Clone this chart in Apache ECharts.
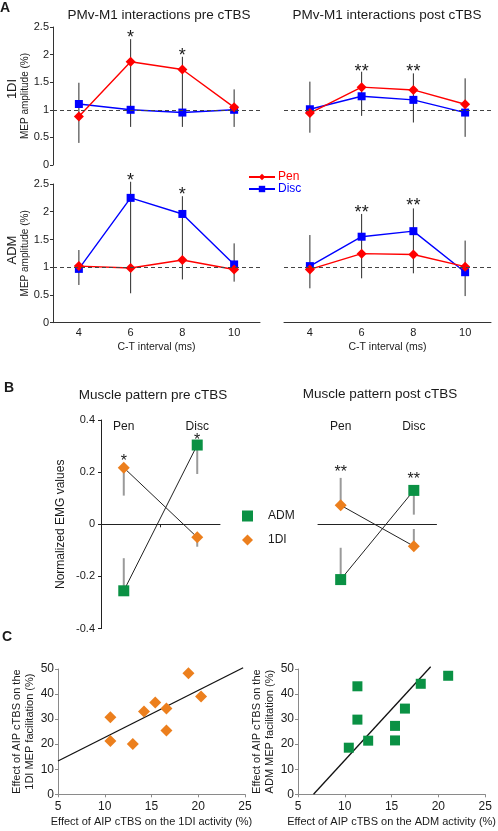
<!DOCTYPE html>
<html><head><meta charset="utf-8">
<script src="https://cdn.jsdelivr.net/npm/echarts@6/dist/echarts.min.js"></script>
<style>html,body{margin:0;padding:0;background:#fff}#c{width:498px;height:831px}</style>
</head><body><div id="c"></div>
<script>
// ---------- Panel A data ----------
const ctIntervals = ['4', '6', '8', '10'];
const penPre1DI = [0.88, 1.87, 1.73, 1.045];
const discPre1DI = [1.105, 1.0, 0.95, 1.0];
const errPre1DI = [[0.40, 1.49], [0.69, 2.28], [0.69, 1.96], [0.69, 1.37]];
const starsPre1DI = [[1, 2.39, 1], [2, 2.05, 1]];

const penPost1DI = [0.94, 1.41, 1.36, 1.10];
const discPost1DI = [1.01, 1.245, 1.18, 0.95];
const errPost1DI = [[0.585, 1.51], [0.89, 1.69], [0.77, 1.66], [0.51, 1.57]];
const starsPost1DI = [[1, 1.76, 2], [2, 1.76, 2]];

const penPreADM = [1.02, 0.985, 1.13, 0.96];
const discPreADM = [0.97, 2.25, 1.96, 1.05];
const errPreADM = [[0.68, 1.31], [0.53, 2.54], [0.78, 2.28], [0.74, 1.43]];
const starsPreADM = [[1, 2.63, 1], [2, 2.38, 1]];

const penPostADM = [0.96, 1.245, 1.23, 1.01];
const discPostADM = [1.02, 1.55, 1.65, 0.91];
const errPostADM = [[0.62, 1.58], [0.80, 1.96], [0.89, 2.06], [0.48, 1.48]];
const starsPostADM = [[1, 2.05, 2], [2, 2.18, 2]];

// ---------- Panel B data ----------
const taskCats = ['Pen', 'Disc'];
const admPre = [-0.255, 0.304];
const fdiPre = [0.217, -0.05];
const admPreErr = [[-0.255, -0.13], [0.304, 0.193]];
const fdiPreErr = [[0.217, 0.11], [-0.05, -0.086]];
const starsBPre = [[0, 0.257, 1], [1, 0.336, 1]];

const admPost = [-0.212, 0.13];
const fdiPost = [0.073, -0.084];
const admPostErr = [[-0.212, -0.09], [0.13, 0.037]];
const fdiPostErr = [[0.073, 0.178], [-0.084, -0.018]];
const starsBPost = [[0, 0.215, 2], [1, 0.185, 2]];

// ---------- Panel C data ----------
const fdiActivity = [10.6, 10.6, 13.0, 14.2, 15.4, 16.6, 16.6, 18.95, 20.3];
const fdiMEP = [30.7, 21.3, 20.1, 33.0, 36.6, 34.2, 25.5, 48.3, 39.0];
const fit1DI = [[5, 13.3], [24.8, 50.5]];

const admActivity = [10.43, 11.35, 11.35, 12.5, 15.37, 15.37, 16.43, 18.12, 21.05];
const admMEP = [18.6, 43.1, 29.8, 21.4, 27.3, 21.5, 34.2, 44.1, 47.3];
const fitADM = [[6.66, 0], [19.18, 50.9]];

// ---------- styling ----------
const RED = '#ff0000', BLUE = '#0000ff', ORANGE = '#ec7f1d', GREEN = '#0a9144';
const FONT = 'Liberation Sans, Arial, sans-serif';
const TXT = '#1a1a1a';

function errRender(color, width) {
  return function (params, api) {
    const p1 = api.coord([api.value(0), api.value(1)]);
    const p2 = api.coord([api.value(0), api.value(2)]);
    return { type: 'line', shape: { x1: p1[0], y1: p1[1], x2: p2[0], y2: p2[1] },
      style: { stroke: color, lineWidth: width } };
  };
}
function starRender(size) {
  return function (params, api) {
    const p = api.coord([api.value(0), api.value(1)]);
    return { type: 'text', x: p[0], y: p[1] + size * 0.25,
      style: { text: '*'.repeat(api.value(2)), fill: TXT, font: size + 'px ' + FONT,
        align: 'center', verticalAlign: 'middle' } };
  };
}

const series = [];
function addA(idx, pen, disc, errs, stars) {
  series.push({ type: 'custom', xAxisIndex: idx, yAxisIndex: idx, z: 1,
    encode: { x: 0, y: [1, 2] },
    data: errs.map((e, k) => [k, e[0], e[1]]), renderItem: errRender('#2a2a2a', 1) });
  series.push({ type: 'line', name: 'Disc', xAxisIndex: idx, yAxisIndex: idx, z: 3,
    data: disc, color: BLUE, symbol: 'rect', symbolSize: 8, lineStyle: { width: 1.4 },
    markLine: { silent: true, symbol: 'none', label: { show: false },
      lineStyle: { type: [4, 3], color: '#444', width: 1 }, data: [{ yAxis: 1 }] } });
  series.push({ type: 'line', name: 'Pen', xAxisIndex: idx, yAxisIndex: idx, z: 4,
    data: pen, color: RED, symbol: 'diamond', symbolSize: 10, lineStyle: { width: 1.4 } });
  series.push({ type: 'custom', xAxisIndex: idx, yAxisIndex: idx, z: 5,
    encode: { x: 0, y: 1 }, data: stars, renderItem: starRender(18) });
}
addA(0, penPre1DI, discPre1DI, errPre1DI, starsPre1DI);
addA(1, penPost1DI, discPost1DI, errPost1DI, starsPost1DI);
addA(2, penPreADM, discPreADM, errPreADM, starsPreADM);
addA(3, penPostADM, discPostADM, errPostADM, starsPostADM);

function addB(gi, xi, adm, fdi, admErr, fdiErr, stars) {
  const errs = admErr.map((e, k) => [k, e[0], e[1]]).concat(fdiErr.map((e, k) => [k, e[0], e[1]]));
  series.push({ type: 'custom', xAxisIndex: xi, yAxisIndex: gi, z: 1,
    encode: { x: 0, y: [1, 2] }, data: errs, renderItem: errRender('#9a9a9a', 2) });
  series.push({ type: 'line', name: 'ADM pattern', xAxisIndex: xi, yAxisIndex: gi, z: 3,
    data: adm.map((v, k) => [k, v]), symbol: 'rect', symbolSize: 11,
    itemStyle: { color: GREEN }, lineStyle: { color: '#222', width: 1 } });
  series.push({ type: 'line', name: '1DI pattern', xAxisIndex: xi, yAxisIndex: gi, z: 3,
    data: fdi.map((v, k) => [k, v]), symbol: 'diamond', symbolSize: 12,
    itemStyle: { color: ORANGE }, lineStyle: { color: '#222', width: 1 } });
  series.push({ type: 'custom', xAxisIndex: xi, yAxisIndex: gi, z: 5,
    encode: { x: 0, y: 1 }, data: stars, renderItem: starRender(16) });
}
addB(4, 4, admPre, fdiPre, admPreErr, fdiPreErr, starsBPre);
addB(5, 5, admPost, fdiPost, admPostErr, fdiPostErr, starsBPost);

series.push({ type: 'scatter', name: '1DI', xAxisIndex: 8, yAxisIndex: 6, z: 3,
  data: fdiActivity.map((x, i) => [x, fdiMEP[i]]), symbol: 'diamond', symbolSize: 12,
  itemStyle: { color: ORANGE, opacity: 1 } });
series.push({ type: 'line', name: 'fit1', xAxisIndex: 8, yAxisIndex: 6, z: 2, clip: false,
  data: fit1DI, symbol: 'none', lineStyle: { color: '#111', width: 1.3 } });
series.push({ type: 'scatter', name: 'ADM', xAxisIndex: 9, yAxisIndex: 7, z: 3,
  data: admActivity.map((x, i) => [x, admMEP[i]]), symbol: 'rect', symbolSize: 10,
  itemStyle: { color: GREEN, opacity: 1 } });
series.push({ type: 'line', name: 'fit2', xAxisIndex: 9, yAxisIndex: 7, z: 2, clip: false,
  data: fitADM, symbol: 'none', lineStyle: { color: '#111', width: 1.3 } });

// ---------- axes ----------
const axLine = { lineStyle: { color: '#333', width: 1 } };
function aX(grid, visible) {
  return { type: 'category', gridIndex: grid, data: ctIntervals, boundaryGap: true,
    show: visible, axisLine: axLine,
    axisTick: { length: 3, lineStyle: { color: '#333' } },
    axisLabel: { fontSize: 11, color: TXT, margin: 5, fontFamily: FONT },
    name: visible ? 'C-T interval (ms)' : '', nameLocation: 'middle', nameGap: 19,
    nameTextStyle: { fontSize: 10.5, color: TXT, fontFamily: FONT } };
}
function aY(grid, visible) {
  return { type: 'value', gridIndex: grid, min: 0, max: 2.5, interval: 0.5, show: visible,
    splitLine: { show: false }, axisLine: { show: true, lineStyle: { color: '#333' } },
    axisTick: { show: true, length: 3, lineStyle: { color: '#333' } },
    axisLabel: { fontSize: 11, color: TXT, margin: 4, fontFamily: FONT },
    name: 'MEP amplitude (%)', nameLocation: 'middle', nameGap: 15,
    nameTextStyle: { fontSize: 10, color: TXT, fontFamily: FONT } };
}
function bX(grid, tick) {
  return { type: 'value', gridIndex: grid, min: -0.31, max: 1.31, splitLine: { show: false },
    axisLine: { onZero: true, lineStyle: { color: '#222' } },
    axisTick: { show: tick, customValues: [0.5], length: 3, lineStyle: { color: '#222' } },
    axisLabel: { show: false } };
}
function bTop(grid) {
  return { type: 'value', gridIndex: grid, position: 'top', min: -0.31, max: 1.31,
    splitLine: { show: false }, axisLine: { show: false, onZero: false }, axisTick: { show: false },
    axisLabel: { inside: true, margin: 1, customValues: [0, 1], fontSize: 12, color: TXT,
      fontFamily: FONT, formatter: v => taskCats[Math.round(v)] } };
}
function bY(grid, visible) {
  return { type: 'value', gridIndex: grid, min: -0.4, max: 0.4, interval: 0.2, show: visible,
    splitLine: { show: false }, axisLine: { show: true, onZero: false, lineStyle: { color: '#222' } },
    axisTick: { show: true, length: 3, lineStyle: { color: '#222' } },
    axisLabel: { fontSize: 11, color: TXT, margin: 6, fontFamily: FONT },
    name: 'Normalized EMG values', nameLocation: 'middle', nameGap: 34,
    nameTextStyle: { fontSize: 12, color: TXT, fontFamily: FONT } };
}
function cX(grid, name) {
  return { type: 'value', gridIndex: grid, min: 5, max: 25, interval: 5, splitLine: { show: false },
    axisLine: { onZero: false, lineStyle: { color: '#8a8a8a' } },
    axisTick: { length: 3, lineStyle: { color: '#8a8a8a' } },
    axisLabel: { fontSize: 12, color: TXT, margin: 6, fontFamily: FONT },
    name: name, nameLocation: 'middle', nameGap: 22,
    nameTextStyle: { fontSize: 11, color: TXT, fontFamily: FONT } };
}
function cY(grid, name) {
  return { type: 'value', gridIndex: grid, min: 0, max: 50, interval: 10, splitLine: { show: false },
    axisLine: { show: true, onZero: false, lineStyle: { color: '#8a8a8a' } },
    axisTick: { show: true, length: 3, lineStyle: { color: '#8a8a8a' } },
    axisLabel: { fontSize: 12, color: TXT, margin: 4, fontFamily: FONT },
    name: name, nameLocation: 'middle', nameGap: 14,
    nameTextStyle: { fontSize: 11, lineHeight: 13, color: TXT, fontFamily: FONT } };
}

function txt(x, y, text, size, opts) {
  return Object.assign({ type: 'text', x: x, y: y, silent: true,
    style: Object.assign({ text: text, fill: TXT, font: size + 'px ' + FONT,
      align: 'center', verticalAlign: 'middle' }, (opts && opts.style) || {}) },
    opts && opts.rotation ? { rotation: opts.rotation } : {});
}

const option = {
  animation: false,
  backgroundColor: '#fff',
  textStyle: { fontFamily: FONT },
  grid: [
    { left: 53, top: 27, width: 207, height: 138 },
    { left: 284, top: 27, width: 207, height: 138 },
    { left: 53, top: 184, width: 207, height: 138.7 },
    { left: 284, top: 184, width: 207, height: 138.7 },
    { left: 101, top: 420, width: 119, height: 208.6 },
    { left: 318, top: 420, width: 118.5, height: 208.6 },
    { left: 58, top: 669, width: 187, height: 125.3 },
    { left: 298, top: 669, width: 189, height: 125.3 }
  ],
  xAxis: [aX(0, false), aX(1, false), aX(2, true), aX(3, true),
    bX(4, true), bX(5, false), bTop(4), bTop(5),
    cX(6, 'Effect of AIP cTBS on the 1DI activity (%)'),
    cX(7, 'Effect of AIP cTBS on the ADM activity (%)')],
  yAxis: [aY(0, true), aY(1, false), aY(2, true), aY(3, false),
    bY(4, true), bY(5, false),
    cY(6, 'Effect of AIP cTBS on the\n1DI MEP facilitation (%)'),
    cY(7, 'Effect of AIP cTBS on the\nADM MEP facilitation (%)')],
  legend: [
    { data: [{ name: 'Pen', textStyle: { color: RED } }, { name: 'Disc', textStyle: { color: BLUE } }],
      orient: 'vertical', left: 243, top: 166, itemWidth: 26, itemHeight: 8, itemGap: 0,
      textStyle: { fontSize: 12, fontFamily: FONT, padding: [0, 0, 0, -2] }, selectedMode: false },
    { data: [{ name: 'ADM', icon: 'rect' }, { name: '1DI', icon: 'diamond' }],
      orient: 'vertical', left: 237, top: 505, itemWidth: 11, itemHeight: 11, itemGap: 12,
      textStyle: { fontSize: 12, color: TXT, fontFamily: FONT, padding: [0, 0, 0, 10] },
      selectedMode: false }
  ],
  graphic: [
    txt(5, 8, 'A', 14, { style: { font: 'bold 14px ' + FONT } }),
    txt(9, 388, 'B', 14, { style: { font: 'bold 14px ' + FONT } }),
    txt(7, 637, 'C', 14, { style: { font: 'bold 14px ' + FONT } }),
    txt(159, 15, 'PMv-M1 interactions pre cTBS', 13.5),
    txt(387, 15, 'PMv-M1 interactions post cTBS', 13.5),
    txt(153, 395, 'Muscle pattern pre cTBS', 13.5),
    txt(380, 394, 'Muscle pattern post cTBS', 13.5),
    txt(12, 89, '1DI', 13, { rotation: Math.PI / 2 }),
    txt(12, 250, 'ADM', 13, { rotation: Math.PI / 2 })
  ],
  series: series
};

const chart = echarts.init(document.getElementById('c'), null, { renderer: 'canvas' });
chart.setOption(option);
</script>
</body></html>
